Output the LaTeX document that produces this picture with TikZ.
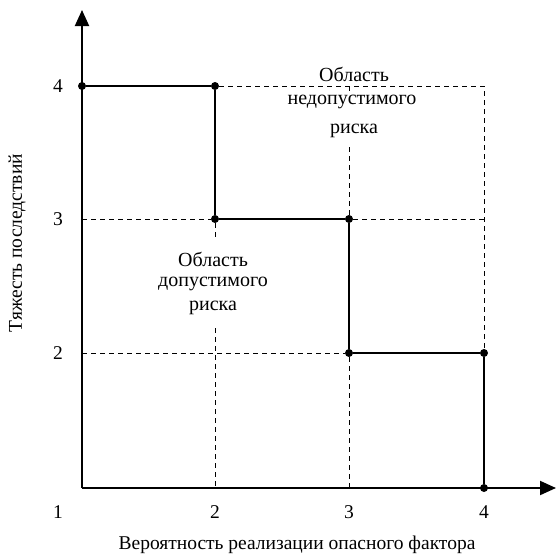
\documentclass[tikz,border=0pt]{standalone}
\usepackage{fontspec}
\setmainfont{Liberation Serif}
\usetikzlibrary{arrows.meta}
\begin{document}
\begin{tikzpicture}[x=1pt,y=-1pt,
  axis/.style={line width=2pt,-{Triangle[length=16pt,width=14pt]}},
  grid/.style={line width=0.9pt,dash pattern=on 5pt off 4pt},
  bound/.style={line width=2.6pt},
  dot/.style={circle,fill=black,inner sep=0pt,minimum size=8pt},
  lbl/.style={font=\fontsize{19.5}{22}\selectfont,inner sep=0pt},
  area/.style={font=\fontsize{20}{22}\selectfont,inner sep=0pt}]
\useasboundingbox (0,0) rectangle (557,558);
% coordinates
\coordinate (O) at (82,488);
\coordinate (ytip) at (82,10);
\coordinate (xtip) at (556,488);
\node[dot] (a) at (82,86) {};
\node[dot] (b) at (215,86) {};
\node[dot] (c) at (215,219) {};
\node[dot] (d) at (349,219) {};
\node[dot] (e) at (349,353) {};
\node[dot] (f) at (484,353) {};
\node[dot] (g) at (484,488) {};
\coordinate (tr) at (484,86);
\coordinate (t3) at (349,86);
\coordinate (t3a) at (349,91);
\coordinate (t3b) at (349,147);
\coordinate (y3) at (82,219);
\coordinate (y2) at (82,353);
\coordinate (c2a) at (215,241);
\coordinate (c2b) at (215,328);
\coordinate (x2) at (215,488);
\coordinate (x3) at (349,488);
\coordinate (r3) at (484,219);
% dashed grid
\draw[grid] (b) -- (tr) -- (f);
\draw[grid] (y3) -- (c);
\draw[grid] (d) -- (r3);
\draw[grid] (y2) -- (e);
\draw[grid] (t3) -- (t3a);
\draw[grid] (t3b) -- (d);
\draw[grid] (c) -- (c2a);
\draw[grid] (c2b) -- (x2);
\draw[grid] (e) -- (x3);
% text areas
\node[area] (u1) at (354,74) {Область};
\node[area] (u2) at (352,102) {недопустимого};
\node[area] (u3) at (354,131) {риска};
\node[area] (w1) at (213,259) {Область};
\node[area] (w2) at (213,284) {допустимого};
\node[area] (w3) at (213,308) {риска};
% axes
\draw[axis] (O) -- (ytip);
\draw[axis] (O) -- (xtip);
% boundary
\draw[bound] (a) -- (b) -- (c) -- (d) -- (e) -- (f) -- (g);
% tick labels
\node[lbl] (l4) at (58,86) {4};
\node[lbl] (l3) at (58,219) {3};
\node[lbl] (l2) at (58,353) {2};
\node[lbl] (k1) at (58,512) {1};
\node[lbl] (k2) at (215,512) {2};
\node[lbl] (k3) at (349,512) {3};
\node[lbl] (k4) at (484,512) {4};
\node[lbl] (xt) at (297,545) {Вероятность реализации опасного фактора};
\node[lbl,rotate=90] (yt) at (17,243) {Тяжесть последствий};
\end{tikzpicture}
\end{document}
